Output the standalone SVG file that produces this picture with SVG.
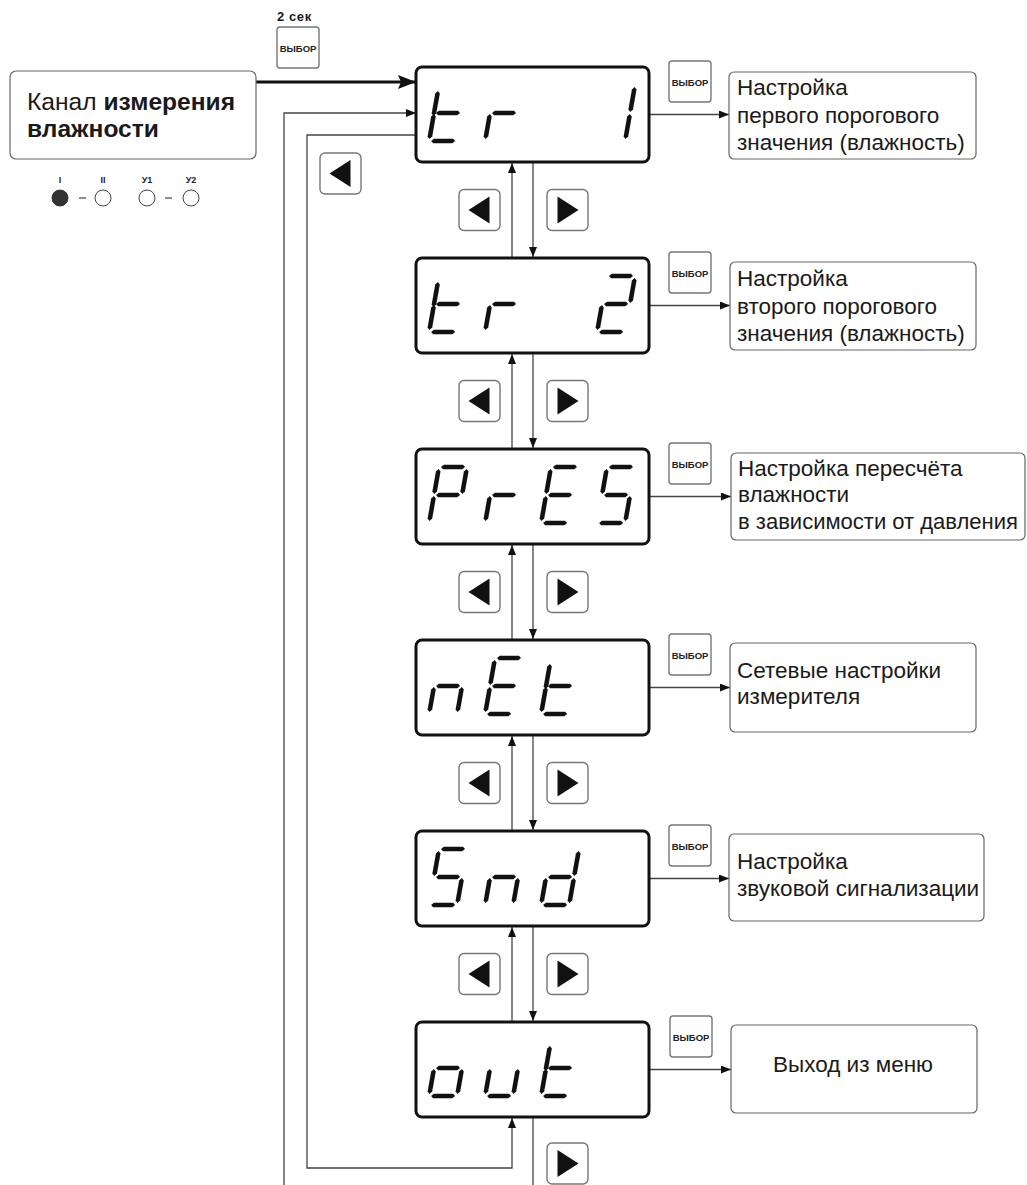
<svg xmlns="http://www.w3.org/2000/svg" xmlns:xlink="http://www.w3.org/1999/xlink" width="1027" height="1185" viewBox="0 0 1027 1185">
<style>
text{font-family:"Liberation Sans",Arial,sans-serif;fill:#1a1a1a}
.disp{fill:#fff;stroke:#111;stroke-width:3}
.tbox{fill:#fff;stroke:#666;stroke-width:1.2}
.btn{fill:#fff;stroke:#777;stroke-width:1.4}
.btxt{font-size:9.5px;font-weight:bold;text-anchor:middle;fill:#222}
.lbl{font-size:22.5px}
.con{fill:none;stroke:#444;stroke-width:1.3}
.seg{fill:#111}
.led{font-size:9px;font-weight:bold;text-anchor:middle;fill:#222}
</style>
<defs>
<marker id="ah" viewBox="0 0 10 8" refX="10" refY="4" markerWidth="10" markerHeight="8" markerUnits="userSpaceOnUse" orient="auto"><path d="M0,0 L10,4 L0,8 Z" fill="#111"/></marker>
<marker id="ahb" viewBox="0 0 18 14" refX="18" refY="7" markerWidth="18" markerHeight="14" markerUnits="userSpaceOnUse" orient="auto"><path d="M0,0 L18,7 L0,14 L3,7 Z" fill="#111"/></marker>
<polygon id="sh" class="seg" points="0,0 2.4,-2.3 21.6,-2.3 24,0 21.6,2.3 2.4,2.3"/>
<polygon id="sv" class="seg" points="0,0 2.3,2.4 2.3,22.6 0,25 -2.3,22.6 -2.3,2.4"/>
<g id="sa"><use href="#sh" x="2" y="0"/></g>
<g id="sb"><use href="#sv" x="28" y="2"/></g>
<g id="sc"><use href="#sv" x="28" y="29"/></g>
<g id="sd"><use href="#sh" x="2" y="56"/></g>
<g id="se"><use href="#sv" x="0" y="29"/></g>
<g id="sf"><use href="#sv" x="0" y="2"/></g>
<g id="sg"><use href="#sh" x="2" y="28"/></g>
<g id="c-t"><use href="#sf" y="4"/><use href="#se"/><use href="#sd"/><use href="#sg"/></g>
<g id="c-r"><use href="#se"/><use href="#sg"/></g>
<g id="c-1"><use href="#sb"/><use href="#sc"/></g>
<g id="c-2"><use href="#sa"/><use href="#sb"/><use href="#sg"/><use href="#se"/><use href="#sd"/></g>
<g id="c-P"><use href="#sa"/><use href="#sb"/><use href="#sf"/><use href="#sg"/><use href="#se"/></g>
<g id="c-E"><use href="#sa"/><use href="#sf"/><use href="#sg"/><use href="#se"/><use href="#sd"/></g>
<g id="c-S"><use href="#sa"/><use href="#sf"/><use href="#sg"/><use href="#sc"/><use href="#sd"/></g>
<g id="c-n"><use href="#se"/><use href="#sg"/><use href="#sc"/></g>
<g id="c-d"><use href="#sb"/><use href="#sc"/><use href="#sg"/><use href="#se"/><use href="#sd"/></g>
<g id="c-o"><use href="#sg"/><use href="#se"/><use href="#sc"/><use href="#sd"/></g>
<g id="c-u"><use href="#se"/><use href="#sd"/><use href="#sc"/></g>
<path id="triL" d="M-11,0 L10,-13.5 L10,13.5 Z" fill="#111"/>
<path id="triR" d="M11,0 L-10,-13.5 L-10,13.5 Z" fill="#111"/>
<g id="vybor"><rect class="btn" x="0" y="0" width="42" height="41" rx="3"/><text class="btxt" x="21" y="25">ВЫБОР</text></g>
<g id="btnL"><rect class="btn" x="0" y="0" width="41" height="41" rx="5"/><use href="#triL" x="20.5" y="20.5"/></g>
<g id="btnR"><rect class="btn" x="0" y="0" width="41" height="41" rx="5"/><use href="#triR" x="20.5" y="20.5"/></g>
</defs>
<rect width="1027" height="1185" fill="#fff"/>

<g id="connectors">
<line x1="256" y1="82" x2="416" y2="82" stroke="#111" stroke-width="3" marker-end="url(#ahb)"/>
<polyline class="con" points="284,1185 284,113 416,113" marker-end="url(#ah)"/>
<polyline class="con" points="416,135 307,135 307,1168 512,1168 512,1118" marker-end="url(#ah)"/>
<line class="con" x1="512" y1="258" x2="512" y2="163" marker-end="url(#ah)"/>
<line class="con" x1="533" y1="162" x2="533" y2="257" marker-end="url(#ah)"/>
<line class="con" x1="512" y1="449" x2="512" y2="354" marker-end="url(#ah)"/>
<line class="con" x1="533" y1="353" x2="533" y2="448" marker-end="url(#ah)"/>
<line class="con" x1="512" y1="640" x2="512" y2="545" marker-end="url(#ah)"/>
<line class="con" x1="533" y1="544" x2="533" y2="639" marker-end="url(#ah)"/>
<line class="con" x1="512" y1="831" x2="512" y2="736" marker-end="url(#ah)"/>
<line class="con" x1="533" y1="735" x2="533" y2="830" marker-end="url(#ah)"/>
<line class="con" x1="512" y1="1022" x2="512" y2="927" marker-end="url(#ah)"/>
<line class="con" x1="533" y1="926" x2="533" y2="1021" marker-end="url(#ah)"/>
<line class="con" x1="533" y1="1117" x2="533" y2="1185"/>
<line class="con" x1="649" y1="114.5" x2="729" y2="114.5" marker-end="url(#ah)"/>
<line class="con" x1="649" y1="305.5" x2="730" y2="305.5" marker-end="url(#ah)"/>
<line class="con" x1="649" y1="496.5" x2="731" y2="496.5" marker-end="url(#ah)"/>
<line class="con" x1="649" y1="687.5" x2="730" y2="687.5" marker-end="url(#ah)"/>
<line class="con" x1="649" y1="878.5" x2="729" y2="878.5" marker-end="url(#ah)"/>
<line class="con" x1="649" y1="1069.5" x2="731" y2="1069.5" marker-end="url(#ah)"/>
</g>

<g id="channel">
<rect class="tbox" x="10" y="71" width="246" height="88" rx="6"/>
<text x="27" y="110" font-size="24.6">Канал <tspan font-weight="bold">измерения</tspan></text>
<text x="27" y="137" font-size="24.6" font-weight="bold">влажности</text>
</g>

<g id="leds">
<text class="led" x="60" y="183">I</text>
<text class="led" x="103" y="183">II</text>
<text class="led" x="147" y="183">У1</text>
<text class="led" x="191" y="183">У2</text>
<circle cx="60" cy="198" r="8" fill="#333" stroke="#333" stroke-width="1"/>
<circle cx="103" cy="198" r="8" fill="#fff" stroke="#444" stroke-width="1"/>
<circle cx="147" cy="198" r="8" fill="#fff" stroke="#444" stroke-width="1"/>
<circle cx="191" cy="198" r="8" fill="#fff" stroke="#444" stroke-width="1"/>
<line x1="79" y1="198" x2="86" y2="198" stroke="#444" stroke-width="1.2"/>
<line x1="165" y1="198" x2="172" y2="198" stroke="#444" stroke-width="1.2"/>
</g>

<g id="start-button">
<text x="277" y="21" font-size="13" font-weight="bold" letter-spacing="0.6">2 сек</text>
<use href="#vybor" x="277" y="27"/>
</g>
<g id="back-button"><use href="#btnL" x="320" y="153"/></g>

<g id="disp-tr1" aria-label="tr 1">
<rect class="disp" x="416" y="67" width="233" height="95" rx="6"/>
<use href="#c-t" transform="translate(439,85) skewX(-10)"/>
<use href="#c-r" transform="translate(495,85) skewX(-10)"/>
<use href="#c-1" transform="translate(607,85) skewX(-10)"/>
</g>
<g id="disp-tr2" aria-label="tr 2">
<rect class="disp" x="416" y="258" width="233" height="95" rx="6"/>
<use href="#c-t" transform="translate(439,276) skewX(-10)"/>
<use href="#c-r" transform="translate(495,276) skewX(-10)"/>
<use href="#c-2" transform="translate(607,276) skewX(-10)"/>
</g>
<g id="disp-pres" aria-label="PrES">
<rect class="disp" x="416" y="449" width="233" height="95" rx="6"/>
<use href="#c-P" transform="translate(439,467) skewX(-10)"/>
<use href="#c-r" transform="translate(495,467) skewX(-10)"/>
<use href="#c-E" transform="translate(551,467) skewX(-10)"/>
<use href="#c-S" transform="translate(607,467) skewX(-10)"/>
</g>
<g id="disp-net" aria-label="nEt">
<rect class="disp" x="416" y="640" width="233" height="95" rx="6"/>
<use href="#c-n" transform="translate(439,658) skewX(-10)"/>
<use href="#c-E" transform="translate(495,658) skewX(-10)"/>
<use href="#c-t" transform="translate(551,658) skewX(-10)"/>
</g>
<g id="disp-snd" aria-label="Snd">
<rect class="disp" x="416" y="831" width="233" height="95" rx="6"/>
<use href="#c-S" transform="translate(439,849) skewX(-10)"/>
<use href="#c-n" transform="translate(495,849) skewX(-10)"/>
<use href="#c-d" transform="translate(551,849) skewX(-10)"/>
</g>
<g id="disp-out" aria-label="out">
<rect class="disp" x="416" y="1022" width="233" height="95" rx="6"/>
<use href="#c-o" transform="translate(439,1040) skewX(-10)"/>
<use href="#c-u" transform="translate(495,1040) skewX(-10)"/>
<use href="#c-t" transform="translate(551,1040) skewX(-10)"/>
</g>

<g id="select-buttons">
<use href="#vybor" x="669" y="61"/>
<use href="#vybor" x="669" y="252"/>
<use href="#vybor" x="669" y="443"/>
<use href="#vybor" x="669" y="634"/>
<use href="#vybor" x="669" y="825"/>
<use href="#vybor" x="670" y="1016"/>
</g>

<g id="nav-buttons">
<use href="#btnL" x="459" y="189.5"/><use href="#btnR" x="547" y="189.5"/>
<use href="#btnL" x="459" y="380.5"/><use href="#btnR" x="547" y="380.5"/>
<use href="#btnL" x="459" y="571.5"/><use href="#btnR" x="547" y="571.5"/>
<use href="#btnL" x="459" y="762.5"/><use href="#btnR" x="547" y="762.5"/>
<use href="#btnL" x="459" y="953.5"/><use href="#btnR" x="547" y="953.5"/>
<use href="#btnR" x="547" y="1143"/>
</g>

<g id="box-tr1">
<rect class="tbox" x="729" y="72" width="247" height="87" rx="5"/>
<text class="lbl" x="737" y="95">Настройка</text>
<text class="lbl" x="737" y="123">первого порогового</text>
<text class="lbl" x="737" y="150">значения (влажность)</text>
</g>
<g id="box-tr2">
<rect class="tbox" x="730" y="262" width="246" height="88" rx="5"/>
<text class="lbl" x="737" y="286">Настройка</text>
<text class="lbl" x="737" y="314">второго порогового</text>
<text class="lbl" x="737" y="341">значения (влажность)</text>
</g>
<g id="box-pres">
<rect class="tbox" x="731" y="453" width="294" height="87" rx="5"/>
<text class="lbl" x="738" y="476">Настройка пересчёта</text>
<text class="lbl" x="738" y="502">влажности</text>
<text class="lbl" x="738" y="529" textLength="280" lengthAdjust="spacingAndGlyphs">в зависимости от давления</text>
</g>
<g id="box-net">
<rect class="tbox" x="730" y="643" width="246" height="89" rx="5"/>
<text class="lbl" x="737" y="678">Сетевые настройки</text>
<text class="lbl" x="737" y="704">измерителя</text>
</g>
<g id="box-snd">
<rect class="tbox" x="729" y="834" width="255" height="87" rx="5"/>
<text class="lbl" x="737" y="869">Настройка</text>
<text class="lbl" x="737" y="896">звуковой сигнализации</text>
</g>
<g id="box-out">
<rect class="tbox" x="731" y="1025" width="246" height="88" rx="5"/>
<text class="lbl" x="853" y="1072" text-anchor="middle">Выход из меню</text>
</g>
</svg>
